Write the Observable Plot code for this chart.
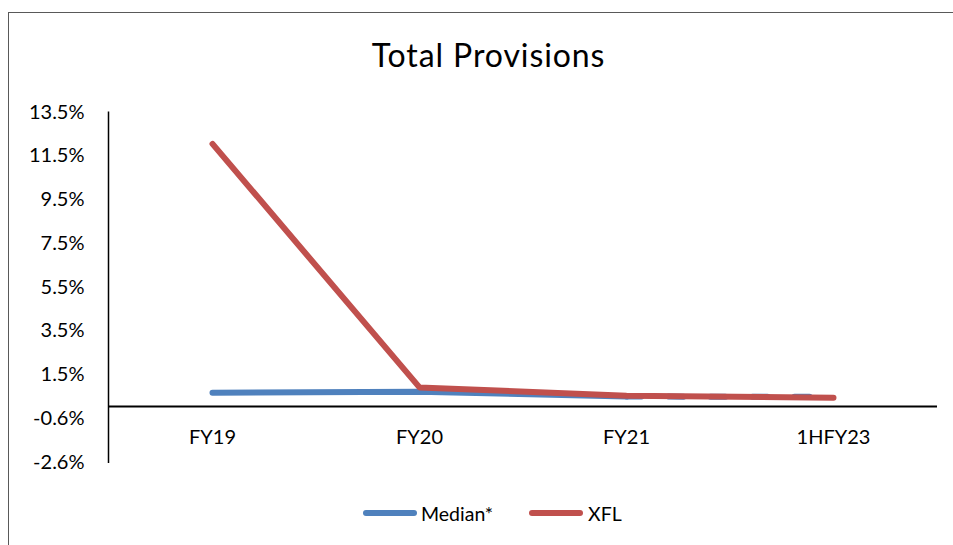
<!DOCTYPE html>
<html>
<head>
<meta charset="utf-8">
<script src="https://cdn.jsdelivr.net/npm/d3@7"></script>
<script src="https://cdn.jsdelivr.net/npm/@observablehq/plot@0.6"></script>
<style>
  html, body { margin: 0; padding: 0; background: #fff; overflow: hidden; }
  #wrap { position: relative; width: 953px; height: 545px; overflow: hidden; font-family: Lato, "Open Sans", sans-serif; color: #000; }
  #border { position: absolute; left: 8px; top: 12px; width: 1000px; height: 600px; border: 1.5px solid #595959; box-sizing: border-box; }
  #chart { position: absolute; left: 0; top: 0; }
  #title { position: absolute; left: 0; width: 977px; top: 39px; text-align: center; font-size: 32px; letter-spacing: 0.9px; line-height: 32px; white-space: nowrap; }
  .legend-text { position: absolute; top: 504px; font-size: 19.5px; line-height: 20px; white-space: nowrap; }
  .swatch { position: absolute; top: 510.3px; height: 6px; border-radius: 3px; }
</style>
</head>
<body>
<div id="wrap">
  <div id="border"></div>
  <div id="chart"></div>
  <div id="title">Total Provisions</div>
  <div id="legend"></div>
</div>
<script>
// Periods on the x axis
const categories = ["FY19", "FY20", "FY21", "1HFY23"];
// Total provisions, in percent
const medianValues = [0.63, 0.67, 0.45, 0.44];
const xflValues = [12.0, 0.87, 0.49, 0.40];
// Value axis ticks and their printed labels
const yTicks = [-2.55, -0.55, 1.45, 3.45, 5.45, 7.45, 9.45, 11.45, 13.45];
const yTickLabels = ["-2.6%", "-0.6%", "1.5%", "3.5%", "5.5%", "7.5%", "9.5%", "11.5%", "13.5%"];
// Series names and colours
const seriesNames = ["Median*", "XFL"];
const seriesColors = ["#4F81BD", "#C0504D"];

const rows = (values) => categories.map((c, i) => ({cat: c, v: values[i], i}));
const medianRows = rows(medianValues);
const xflRows = rows(xflValues);
const lastIdx = categories.length - 1;

const lineStyle = {x: "cat", y: "v", strokeWidth: 6, strokeLinecap: "round", strokeLinejoin: "round"};

const chart = Plot.plot({
  width: 953,
  height: 545,
  marginLeft: 108,
  marginRight: 16,
  marginTop: 111.7,
  marginBottom: 83.3,
  style: {fontFamily: "Lato, 'Open Sans', sans-serif", fontSize: "20px", color: "#000", background: "transparent", overflow: "visible"},
  x: {type: "point", domain: categories, padding: 0.5, axis: null},
  y: {domain: [yTicks[0], yTicks[yTicks.length - 1]], ticks: yTicks, tickSize: 0, tickPadding: 24,
      tickFormat: (d) => yTickLabels[yTicks.indexOf(d)], label: null},
  marks: [
    Plot.frame({anchor: "left", stroke: "#000", strokeWidth: 1.5}),
    Plot.ruleY([0], {stroke: "#000", strokeWidth: 2}),
    Plot.text(categories.map((c) => ({cat: c, v: 0})), {x: "cat", y: "v", text: "cat", dy: 31, fill: "#000"}),
    // median: solid through FY21, dashed to the latest half-year
    Plot.line(medianRows.filter((d) => d.i <= lastIdx - 1), {...lineStyle, stroke: seriesColors[0]}),
    Plot.line(medianRows.filter((d) => d.i >= lastIdx - 1), {...lineStyle, stroke: seriesColors[0], strokeDasharray: "15,27"}),
    Plot.line(xflRows, {...lineStyle, stroke: seriesColors[1]})
  ]
});
document.getElementById("chart").appendChild(chart);

// Legend below the plot
const legend = document.getElementById("legend");
const swatchLeft = [363, 529];
const textLeft = [421, 588];
seriesNames.forEach((name, k) => {
  const sw = document.createElement("div");
  sw.className = "swatch";
  sw.style.left = swatchLeft[k] + "px";
  sw.style.width = "54px";
  sw.style.background = seriesColors[k];
  legend.appendChild(sw);
  const t = document.createElement("div");
  t.className = "legend-text";
  t.style.left = textLeft[k] + "px";
  t.textContent = name;
  legend.appendChild(t);
});
</script>
</body>
</html>
